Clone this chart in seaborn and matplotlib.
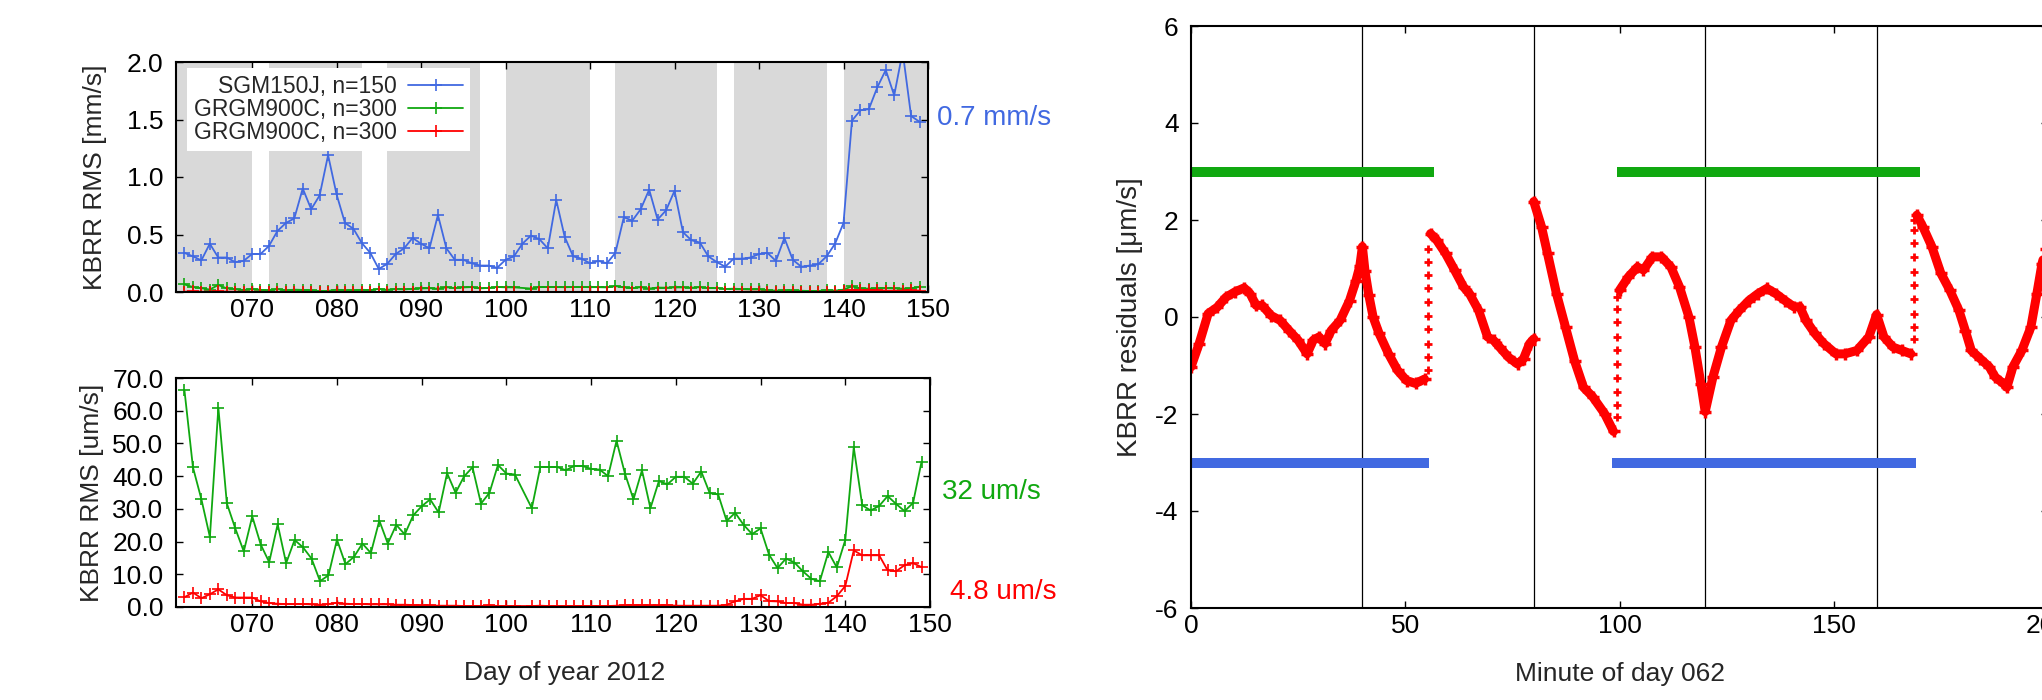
import numpy as np
import pandas as pd
import matplotlib
matplotlib.use("Agg")
import matplotlib.pyplot as plt
import seaborn as sns
from matplotlib.ticker import FixedLocator, FuncFormatter

# ---------------- data ----------------
sgm_days = list(range(62, 150))
sgm_rms_mm = [0.34, 0.31, 0.275, 0.42, 0.30, 0.30, 0.26, 0.27, 0.33, 0.33,
              0.40, 0.53, 0.60, 0.64, 0.90, 0.72, 0.84, 1.19, 0.85, 0.60,
              0.55, 0.425, 0.34, 0.20, 0.245, 0.33, 0.38, 0.47, 0.42, 0.38,
              0.67, 0.38, 0.28, 0.28, 0.25, 0.23, 0.23, 0.21, 0.28, 0.31,
              0.42, 0.49, 0.46, 0.38, 0.80, 0.48, 0.31, 0.29, 0.25, 0.27,
              0.25, 0.34, 0.65, 0.62, 0.72, 0.89, 0.63, 0.71, 0.88, 0.52,
              0.45, 0.43, 0.31, 0.26, 0.22, 0.29, 0.29, 0.30, 0.33, 0.34,
              0.27, 0.47, 0.28, 0.22, 0.23, 0.24, 0.31, 0.42, 0.60, 1.49,
              1.58, 1.59, 1.78, 1.93, 1.71, 2.09, 1.53, 1.48]

grgm_days = list(range(62, 102)) + list(range(103, 150))
grgm_a_um = [66.2, 42.7, 32.9, 21.4, 60.9, 31.7, 24.0, 17.0, 27.7, 19.1,
             13.7, 25.3, 13.4, 20.5, 18.2, 14.8, 7.9, 9.7, 20.6, 13.1,
             15.3, 19.4, 16.5, 26.4, 19.4, 25.1, 22.2, 28.0, 30.8, 32.9,
             28.9, 40.9, 34.9, 39.9, 42.7, 31.6, 34.9, 43.4, 40.8, 40.5,
             30.2, 42.8, 42.8, 42.8, 41.8, 43.1, 43.1, 42.2, 42.0, 40.0,
             50.8, 40.7, 32.9, 41.8, 30.2, 38.5, 37.5, 39.8, 39.8, 37.7,
             41.4, 34.8, 34.4, 26.3, 28.8, 25.1, 22.3, 24.0, 16.0, 11.9,
             14.8, 13.6, 10.9, 8.6, 7.9, 16.8, 12.1, 20.5, 48.8, 31.1,
             29.5, 30.9, 33.9, 31.5, 29.3, 31.8, 44.4]
grgm_b_um = [3.0, 4.4, 2.7, 3.9, 5.4, 3.6, 2.9, 2.9, 2.9, 1.7,
             1.2, 1.0, 0.9, 0.9, 0.9, 0.8, 0.7, 0.9, 1.3, 1.0,
             0.9, 0.9, 0.8, 0.8, 0.8, 0.7, 0.7, 0.6, 0.5, 0.5,
             0.4, 0.4, 0.4, 0.3, 0.3, 0.3, 0.5, 0.3, 0.3, 0.3,
             0.3, 0.4, 0.3, 0.3, 0.3, 0.3, 0.3, 0.3, 0.3, 0.3,
             0.4, 0.6, 0.6, 0.6, 0.5, 0.5, 0.6, 0.4, 0.4, 0.4,
             0.4, 0.4, 0.4, 0.7, 1.7, 2.5, 2.5, 3.6, 1.8, 1.7,
             1.2, 1.2, 0.7, 0.7, 1.0, 1.3, 3.3, 6.4, 17.3, 15.8,
             15.8, 15.8, 11.2, 10.9, 12.8, 13.4, 12.2]

# day intervals shaded in grey in the top panel
shade_start = [61, 72, 86, 100, 113, 127, 140]
shade_end = [70, 83, 97, 110, 125, 138, 150]

legend_labels = ["SGM150J, n=150", "GRGM900C, n=300", "GRGM900C, n=300"]
summary_top = "0.7 mm/s"
summary_green = "32 um/s"
summary_red = "4.8 um/s"

# residuals of day 062 (NaN separates continuous pieces)
res_min = [0, 1.9, 4.0, 6.1, 8.2, 10.3, 12.4, 13.8, 15.2, 16.6, 18.7, 20.8,
           22.9, 25.0, 27.1, 28.5, 29.9, 31.3, 32.7, 34.8, 37.0, 38.5, 39.4,
           40.0, 40.6, 41.5, 42.5, 43.9, 46.1, 48.2, 50.3, 52.4, 54.5,
           np.nan,
           55.9, 57.3, 59.4, 61.5, 63.6, 65.0, 67.1, 69.2, 70.6, 72.0, 74.1,
           76.2, 77.6, 79.0, 80.0,
           np.nan,
           80.0, 81.8, 83.2, 85.3, 87.4, 89.5, 91.6, 93.7, 96.5, 98.6,
           np.nan,
           100.0, 102.1, 104.2, 105.6, 107.7, 109.8, 112.0, 114.0, 116.2,
           117.6, 119.0, 120.0, 121.8, 123.8, 126.0, 128.0, 130.2, 132.3,
           134.4, 136.5, 138.6, 140.7, 142.1, 143.5, 145.6, 147.7, 150.5,
           152.6, 155.4, 158.2, 160.0, 161.7, 163.8, 165.9, 168.0,
           np.nan,
           169.4, 170.8, 172.9, 175.0, 177.1, 179.2, 180.7, 182.1, 184.2,
           186.3, 187.7, 189.7, 190.4, 191.8, 193.9, 196.0, 197.4, 198.6, 199.5]
res_val = [-1.03, -0.55, 0.07, 0.2, 0.41, 0.52, 0.6, 0.48, 0.24, 0.24, 0.03, -0.07,
           -0.28, -0.48, -0.76, -0.48, -0.41, -0.55, -0.28, -0.07, 0.34, 0.75, 1.05,
           1.45, 0.95, 0.45, 0.0, -0.34, -0.76, -1.1, -1.31, -1.37, -1.28,
           np.nan,
           1.72, 1.59, 1.31, 0.97, 0.62, 0.48, 0.14, -0.41, -0.48, -0.62, -0.83,
           -0.97, -0.86, -0.55, -0.45,
           np.nan,
           2.38, 1.86, 1.31, 0.48, -0.21, -0.9, -1.45, -1.64, -1.99, -2.36,
           np.nan,
           0.55, 0.83, 1.03, 0.97, 1.24, 1.24, 1.03, 0.62, 0.0,
           -0.62, -1.38, -1.95, -1.24, -0.62, -0.07, 0.14, 0.34, 0.48,
           0.59, 0.48, 0.34, 0.21, 0.21, -0.07, -0.34, -0.55, -0.76,
           -0.76, -0.69, -0.41, 0.05, -0.41, -0.62, -0.69, -0.76,
           np.nan,
           2.1, 1.86, 1.45, 0.9, 0.55, 0.14, -0.28, -0.69, -0.86,
           -1.03, -1.24, -1.38, -1.45, -1.03, -0.69, -0.21, 0.48, 1.1, 1.4]

# isolated samples at the three jumps
jump_min = [55.2] * 10 + [99.3] * 10 + [168.7] * 10
jump_val = [-1.10, -0.83, -0.55, -0.24, 0.03, 0.31, 0.59, 0.86, 1.14, 1.41,
            -2.06, -1.81, -1.54, -1.26, -0.97, -0.69, -0.41, -0.10, 0.17, 0.41,
            -0.45, -0.21, 0.07, 0.38, 0.66, 0.93, 1.24, 1.52, 1.79, 2.00]

green_start = [0, 99.3]
green_end = [56.7, 170.1]
blue_start = [0, 98.3]
blue_end = [55.6, 169.1]
green_level = 3
blue_level = -3
orbit_marks = [40, 80, 120, 160]

# ---------------- style ----------------
sns.set_theme(style="ticks")
plt.rcParams["font.family"] = ["Liberation Sans", "DejaVu Sans"]
plt.rcParams["axes.unicode_minus"] = False

BLUE = "#4169e1"
GREEN = "#10a810"
RED = "#ff0000"
GREY = "#d9d9d9"
FS = 19

fig = plt.figure(figsize=(20.42, 7.0), dpi=100)
ax1 = fig.add_axes([176 / 2042, 1 - 292 / 700, 752 / 2042, 230 / 700])
ax2 = fig.add_axes([176 / 2042, 1 - 607 / 700, 754 / 2042, 229 / 700])
ax3 = fig.add_axes([1191 / 2042, 1 - 608 / 700, 857 / 2042, 582 / 700])


def style_axes(ax):
    for s in ax.spines.values():
        s.set_visible(True)
        s.set_linewidth(1.5)
        s.set_color("black")
        s.set_zorder(5)
    ax.tick_params(direction="in", top=True, right=True, length=5, width=1,
                   colors="black", labelsize=FS)
    ax.tick_params(axis="x", pad=4.5)
    ax.tick_params(axis="y", pad=9)
    ax.set_facecolor("white")
    ax.grid(False)


line_kw = dict(lw=1.3, marker="+", markersize=9, markeredgewidth=1.2)

# ---- top-left panel (mm/s) ----
style_axes(ax1)
for s0, s1 in zip(shade_start, shade_end):
    ax1.axvspan(s0, s1, color=GREY, lw=0, zorder=0)
sns.lineplot(x=sgm_days, y=sgm_rms_mm, ax=ax1, color=BLUE,
             markeredgecolor=BLUE, label=legend_labels[0], **line_kw)
sns.lineplot(x=grgm_days, y=np.array(grgm_a_um) / 1000.0, ax=ax1, color=GREEN,
             markeredgecolor=GREEN, label=legend_labels[1], **line_kw)
sns.lineplot(x=grgm_days, y=np.array(grgm_b_um) / 1000.0, ax=ax1, color=RED,
             markeredgecolor=RED, label=legend_labels[2], **line_kw)
ax1.set_xlim(61, 150)
ax1.set_ylim(0, 2.0)
ax1.xaxis.set_major_locator(FixedLocator(np.arange(70, 151, 10)))
ax1.xaxis.set_major_formatter(FuncFormatter(lambda v, p: f"{int(round(v)):03d}"))
ax1.yaxis.set_major_locator(FixedLocator(np.arange(0, 2.01, 0.5)))
ax1.yaxis.set_major_formatter(FuncFormatter(lambda v, p: f"{v:.1f}"))
ax1.set_xlabel("")
ax1.set_ylabel("KBRR RMS [mm/s]", fontsize=FS)
ax1.yaxis.set_label_coords(-0.092, 0.5)
h, l = ax1.get_legend_handles_labels()
leg = ax1.legend(h, l, loc="upper left", bbox_to_anchor=(11 / 752, 1 - 6 / 230),
                 borderaxespad=0, frameon=True, fancybox=False, edgecolor="none",
                 facecolor="white", framealpha=1, fontsize=16.5, markerfirst=False,
                 handlelength=2.4, labelspacing=0.0, borderpad=0.3,
                 handletextpad=0.5)
leg.set_zorder(10)
ax1.text(1.012, 0.757, summary_top, transform=ax1.transAxes, color=BLUE,
         fontsize=20, va="center", ha="left")

# ---- bottom-left panel (um/s) ----
style_axes(ax2)
sns.lineplot(x=grgm_days, y=grgm_a_um, ax=ax2, color=GREEN,
             markeredgecolor=GREEN, **line_kw)
sns.lineplot(x=grgm_days, y=grgm_b_um, ax=ax2, color=RED,
             markeredgecolor=RED, **line_kw)
ax2.set_xlim(61, 150)
ax2.set_ylim(0, 70)
ax2.xaxis.set_major_locator(FixedLocator(np.arange(70, 151, 10)))
ax2.xaxis.set_major_formatter(FuncFormatter(lambda v, p: f"{int(round(v)):03d}"))
ax2.yaxis.set_major_locator(FixedLocator(np.arange(0, 71, 10)))
ax2.yaxis.set_major_formatter(FuncFormatter(lambda v, p: f"{v:.1f}"))
ax2.set_ylabel("KBRR RMS [um/s]", fontsize=FS)
ax2.yaxis.set_label_coords(-0.096, 0.5)
ax2.set_xlabel("Day of year 2012", fontsize=FS)
ax2.xaxis.set_label_coords(0.516, -0.235)
ax2.text(1.016, 0.502, summary_green, transform=ax2.transAxes, color=GREEN,
         fontsize=20, va="center", ha="left")
ax2.text(1.027, 0.066, summary_red, transform=ax2.transAxes, color=RED,
         fontsize=20, va="center", ha="left")

# ---- right panel: residuals ----
style_axes(ax3)
for m in orbit_marks:
    ax3.axvline(m, color="black", lw=0.9, zorder=1)
for a, b in zip(green_start, green_end):
    sns.lineplot(x=[a, b], y=[green_level, green_level], ax=ax3, color=GREEN,
                 lw=7.2, solid_capstyle="butt", zorder=3)
for a, b in zip(blue_start, blue_end):
    sns.lineplot(x=[a, b], y=[blue_level, blue_level], ax=ax3, color=BLUE,
                 lw=7.2, solid_capstyle="butt", zorder=3)

res = pd.DataFrame({"minute": res_min, "value": res_val})
res["seg"] = res["value"].isna().cumsum()
res = res.dropna()
sns.lineplot(data=res, x="minute", y="value", units="seg", estimator=None,
             ax=ax3, color=RED, lw=6.5, marker="+", markersize=9,
             markeredgewidth=2.5, markeredgecolor=RED, zorder=4)
sns.scatterplot(x=jump_min, y=jump_val, ax=ax3, color=RED, marker="+",
                s=40, linewidth=2.0, zorder=4)
ax3.set_xlim(0, 200)
ax3.set_ylim(-6, 6)
ax3.xaxis.set_major_locator(FixedLocator(np.arange(0, 201, 50)))
ax3.xaxis.set_major_formatter(FuncFormatter(lambda v, p: f"{int(round(v))}"))
ax3.yaxis.set_major_locator(FixedLocator(np.arange(-6, 7, 2)))
ax3.yaxis.set_major_formatter(FuncFormatter(lambda v, p: f"{int(round(v))}"))
ax3.set_xlabel("Minute of day 062", fontsize=FS)
ax3.xaxis.set_label_coords(0.5, -0.092)
ax3.set_ylabel("KBRR residuals [\u03bcm/s]", fontsize=FS + 1)
ax3.yaxis.set_label_coords(-0.056, 0.5)
if ax3.get_legend() is not None:
    ax3.get_legend().remove()
if ax2.get_legend() is not None:
    ax2.get_legend().remove()

fig.savefig("out.png", dpi=100, facecolor="white")
